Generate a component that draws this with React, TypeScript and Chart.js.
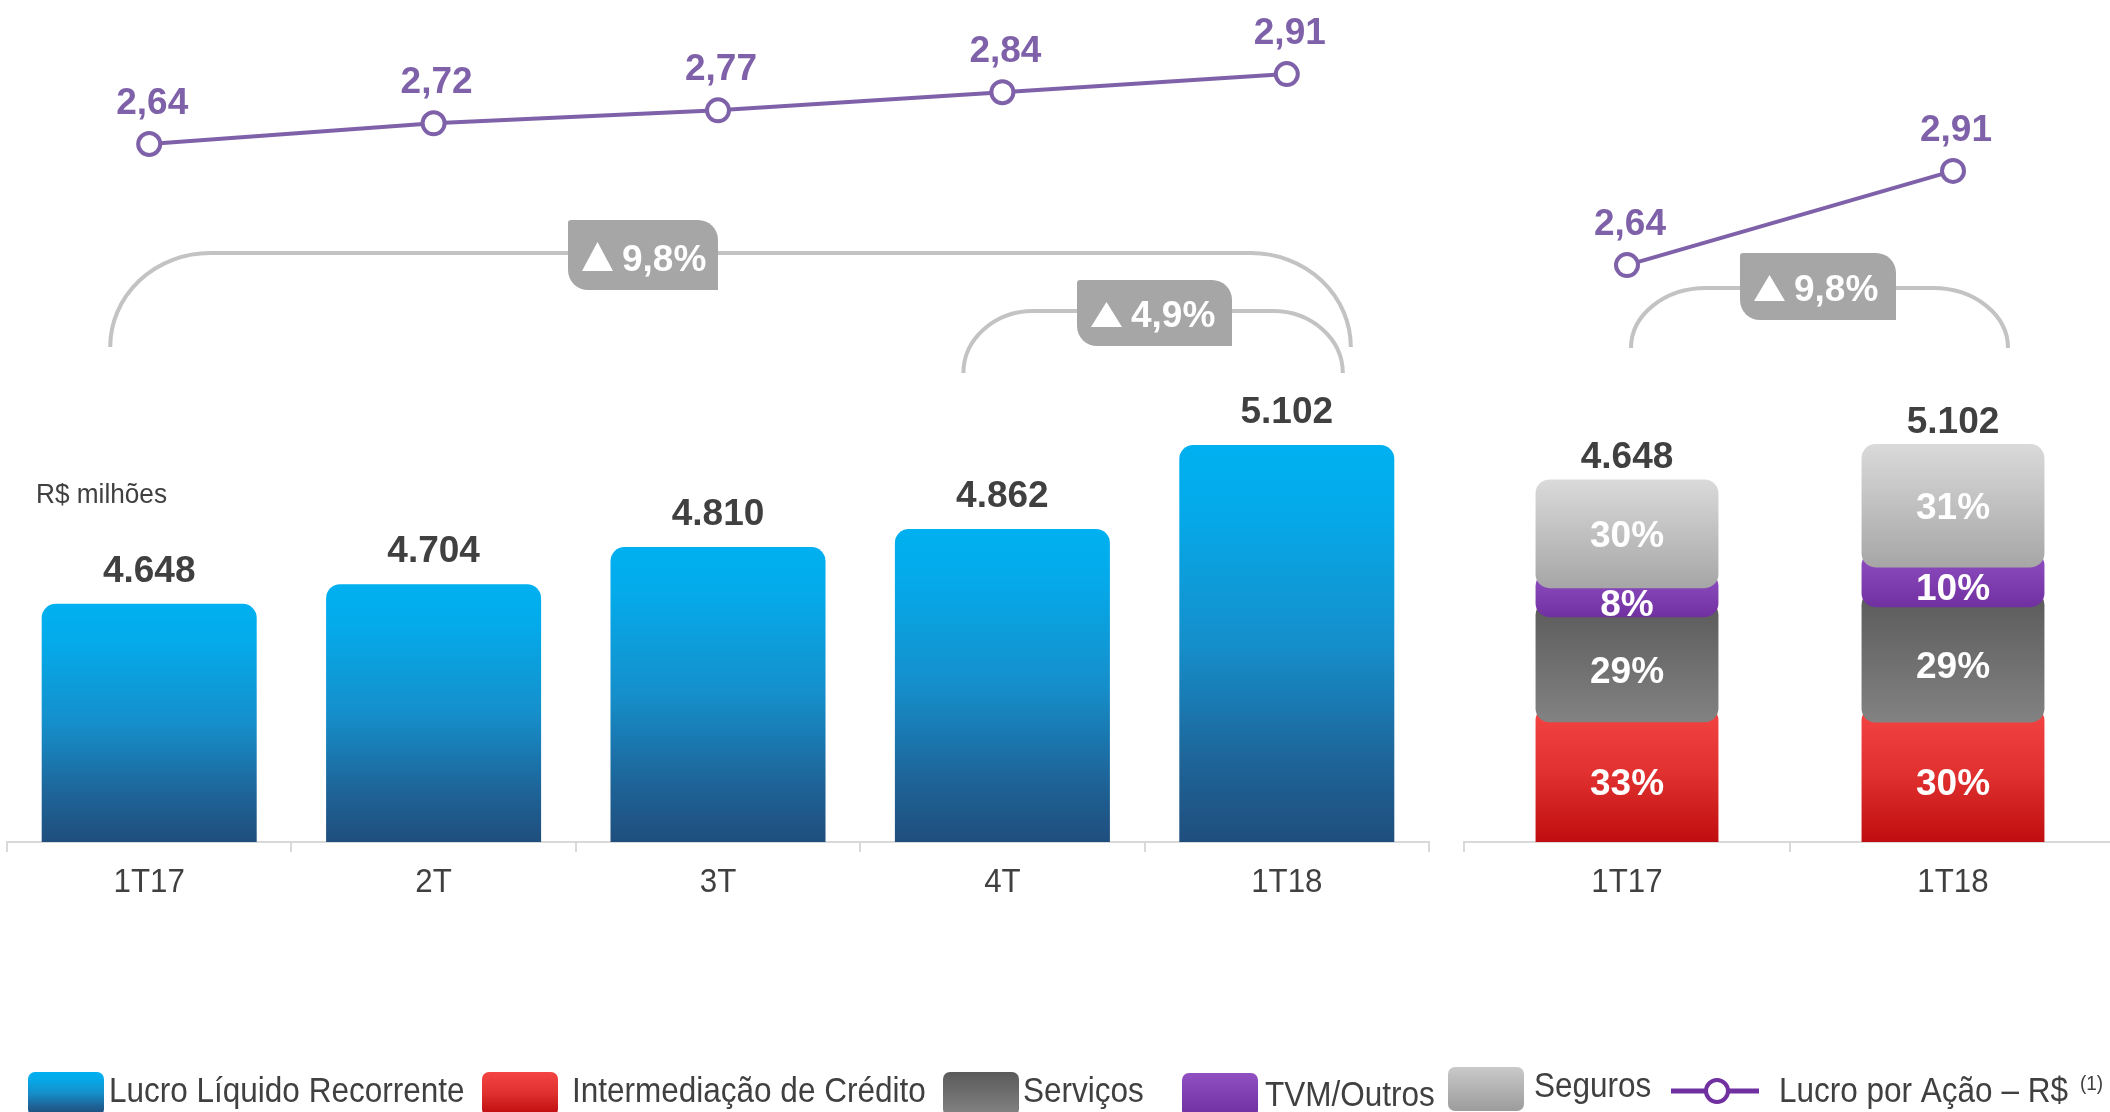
import React, { useEffect, useRef } from "react";
import { Chart, registerables } from "chart.js";

Chart.register(...registerables);

// ---------------- DATA ----------------
const leftCategories = ["1T17", "2T", "3T", "4T", "1T18"];
const lucroRecorrente = [4648, 4704, 4810, 4862, 5102];
const lucroPorAcao = [2.64, 2.72, 2.77, 2.84, 2.91];

const rightCategories = ["1T17", "1T18"];
const rightTotals = [4648, 5102];
const intermediacao = [33, 30];
const servicos = [29, 29];
const tvmOutros = [8, 10];
const seguros = [30, 31];
const rightLucroPorAcao = [2.64, 2.91];

const unitLabel = "R$ milhões";
const legendLabels = [
  "Lucro Líquido Recorrente",
  "Intermediação de Crédito",
  "Serviços",
  "TVM/Outros",
  "Seguros",
  "Lucro por Ação – R$",
];
const legendNote = "(1)";

// ---------------- STYLE ----------------
const W = 2110;
const H = 1112;
const FONT = '"Liberation Sans", Arial, Helvetica, sans-serif';
const PURPLE = "#7E61A8";
const TEXT = "#404040";
const AXIS = "#D9D9D9";
const BRACKET = "#C3C3C3";
const BADGE = "#A6A6A6";

type Stops = [number, string][];
const BLUE: Stops = [[0, "#00B0F0"], [0.15, "#04ABEB"], [0.5, "#158FCB"], [0.8, "#1E6498"], [1, "#1F4E7D"]];
const RED: Stops = [[0, "#F44545"], [0.5, "#E0302F"], [1, "#C00D0F"]];
const DARK: Stops = [[0, "#5A5A5A"], [1, "#828282"]];
const VIOLET: Stops = [[0, "#9150C2"], [1, "#7030A0"]];
const LIGHT: Stops = [[0, "#DADADA"], [1, "#A6A6A6"]];

const segmentShares = [intermediacao, servicos, tvmOutros, seguros];
const segmentStops = [RED, DARK, VIOLET, LIGHT];

// axis ranges (layout)
const LEFT_Y = { min: 3967, max: 6374 };
const LEFT_Y2 = { min: -0.055, max: 3.196 };
const RIGHT_Y = { min: 0, max: 10795 };
const RIGHT_Y2 = { min: 0.986, max: 3.4 };
const AXIS_BOTTOM = 842;
const RIGHT_LEFT = 1440;
const RIGHT_W = 680;
const SEG_OVERLAP = (RIGHT_Y.max * 16) / AXIS_BOTTOM;

// ---------------- HELPERS ----------------
const fmtInt = (v: number) => String(v).replace(/\B(?=(\d{3})+(?!\d))/g, ".");
const fmtDec = (v: number) => v.toFixed(2).replace(".", ",");
const fmtPct1 = (v: number) => v.toFixed(1).replace(".", ",") + "%";

function grad(ctx: CanvasRenderingContext2D, top: number, bottom: number, stops: Stops) {
  if (!isFinite(top) || !isFinite(bottom) || top === bottom) return stops[0][1];
  const g = ctx.createLinearGradient(0, top, 0, bottom);
  stops.forEach(([o, c]) => g.addColorStop(o, c));
  return g;
}

function drawText(
  ctx: CanvasRenderingContext2D,
  s: string,
  x: number,
  y: number,
  o: { size: number; bold?: boolean; color: string; align?: CanvasTextAlign; baseline?: CanvasTextBaseline; sx?: number }
) {
  ctx.save();
  ctx.font = `${o.bold ? "bold " : ""}${o.size}px ${FONT}`;
  ctx.fillStyle = o.color;
  ctx.textAlign = o.align || "center";
  ctx.textBaseline = o.baseline || "alphabetic";
  ctx.translate(x, y);
  ctx.scale(o.sx || 1, 1);
  ctx.fillText(s, 0, 0);
  ctx.restore();
}

function drawBracket(ctx: CanvasRenderingContext2D, x1: number, x2: number, yTop: number, yBot: number, rx: number) {
  const ry = yBot - yTop;
  ctx.save();
  ctx.strokeStyle = BRACKET;
  ctx.lineWidth = 4;
  ctx.beginPath();
  ctx.moveTo(x1, yBot);
  ctx.ellipse(x1 + rx, yBot, rx, ry, 0, Math.PI, 1.5 * Math.PI);
  ctx.lineTo(x2 - rx, yTop);
  ctx.ellipse(x2 - rx, yBot, rx, ry, 0, 1.5 * Math.PI, 2 * Math.PI);
  ctx.stroke();
  ctx.restore();
}

function drawBadge(ctx: CanvasRenderingContext2D, x: number, y: number, w: number, h: number, text: string) {
  ctx.save();
  ctx.fillStyle = BADGE;
  ctx.beginPath();
  (ctx as any).roundRect(x, y, w, h, [3, 20, 0, 20]);
  ctx.fill();
  ctx.fillStyle = "#FFFFFF";
  ctx.beginPath();
  ctx.moveTo(x + 14, y + h - 19);
  ctx.lineTo(x + 45, y + h - 19);
  ctx.lineTo(x + 29.5, y + 22);
  ctx.closePath();
  ctx.fill();
  ctx.restore();
  drawText(ctx, text, x + 54, y + h - 19, { size: 37, bold: true, color: "#FFFFFF", align: "left" });
}

function tickLabels(chart: any, labels: string[]) {
  const x = chart.scales.x;
  labels.forEach((l, i) => {
    drawText(chart.ctx, l, x.getPixelForValue(i), 892, { size: 34, color: TEXT, sx: 0.92 });
  });
}

function lineLabels(chart: any, values: number[]) {
  const x = chart.scales.x;
  const y2 = chart.scales.y2;
  values.forEach((v, i) => {
    drawText(chart.ctx, fmtDec(v), x.getPixelForValue(i) + 3, y2.getPixelForValue(v) - 30, {
      size: 37,
      bold: true,
      color: PURPLE,
    });
  });
}

// ---------------- PLUGINS ----------------
const leftPlugin = {
  id: "leftDecor",
  beforeDatasetsDraw(chart: any) {
    const ctx = chart.ctx;
    const x = chart.scales.x;
    const p0 = x.getPixelForValue(0);
    const p3 = x.getPixelForValue(3);
    const p4 = x.getPixelForValue(4);
    drawBracket(ctx, p0 - 39, p4 + 64, 253, 347, 100);
    drawBracket(ctx, p3 - 39, p4 + 56, 311, 373, 70);
    const n = lucroRecorrente.length - 1;
    drawBadge(ctx, 568, 220, 150, 70, fmtPct1((lucroRecorrente[n] / lucroRecorrente[0] - 1) * 100));
    drawBadge(ctx, 1077, 280, 155, 66, fmtPct1((lucroRecorrente[n] / lucroRecorrente[n - 1] - 1) * 100));
  },
  afterDatasetsDraw(chart: any) {
    const ctx = chart.ctx;
    const x = chart.scales.x;
    const y = chart.scales.y;
    lucroRecorrente.forEach((v, i) => {
      drawText(ctx, fmtInt(v), x.getPixelForValue(i), y.getPixelForValue(v) - 22, { size: 37, bold: true, color: TEXT });
    });
    lineLabels(chart, lucroPorAcao);
    tickLabels(chart, leftCategories);
    drawText(ctx, unitLabel, 36, 503, { size: 27, color: TEXT, align: "left", sx: 0.97 });

    // legend
    const sw = [
      { x: 28, y: 1072, stops: BLUE, tx: 109, ty: 1102 },
      { x: 482, y: 1072, stops: RED, tx: 572, ty: 1102 },
      { x: 943, y: 1072, stops: DARK, tx: 1023, ty: 1102 },
      { x: 1182, y: 1073, stops: VIOLET, tx: 1265, ty: 1106 },
      { x: 1448, y: 1067, stops: [[0, "#C9C9C9"], [1, "#9E9E9E"]] as Stops, tx: 1534, ty: 1097 },
    ];
    sw.forEach((s, i) => {
      ctx.save();
      ctx.fillStyle = grad(ctx, s.y, s.y + 42, s.stops);
      ctx.beginPath();
      (ctx as any).roundRect(s.x, s.y, 76, 44, 7);
      ctx.fill();
      ctx.restore();
      drawText(ctx, legendLabels[i], s.tx, s.ty, { size: 35, color: TEXT, align: "left", sx: 0.9 });
    });
    ctx.save();
    ctx.strokeStyle = "#7030A0";
    ctx.lineWidth = 5;
    ctx.beginPath();
    ctx.moveTo(1671, 1091);
    ctx.lineTo(1759, 1091);
    ctx.stroke();
    ctx.beginPath();
    ctx.arc(1717, 1091, 11, 0, Math.PI * 2);
    ctx.fillStyle = "#FFFFFF";
    ctx.fill();
    ctx.lineWidth = 4;
    ctx.stroke();
    ctx.restore();
    drawText(ctx, legendLabels[5], 1779, 1102, { size: 35, color: TEXT, align: "left", sx: 0.9 });
    drawText(ctx, legendNote, 2080, 1090, { size: 21, color: TEXT, align: "left", sx: 0.9 });
  },
};

const rightPlugin = {
  id: "rightDecor",
  beforeDatasetsDraw(chart: any) {
    const ctx = chart.ctx;
    const x = chart.scales.x;
    drawBracket(ctx, x.getPixelForValue(0) + 4, x.getPixelForValue(1) + 55, 288, 348, 75);
    drawBadge(ctx, 1740 - RIGHT_LEFT, 253, 156, 67, fmtPct1((rightTotals[1] / rightTotals[0] - 1) * 100));
  },
  afterDatasetsDraw(chart: any) {
    const ctx = chart.ctx;
    const x = chart.scales.x;
    const y = chart.scales.y;
    rightTotals.forEach((t, i) => {
      const px = x.getPixelForValue(i);
      drawText(ctx, fmtInt(t), px, y.getPixelForValue(t) - 11, { size: 37, bold: true, color: TEXT });
      let cum = 0;
      segmentShares.forEach((shares) => {
        const lo = (t * cum) / 100;
        cum += shares[i];
        const hi = (t * cum) / 100;
        const cy = (y.getPixelForValue(lo) + y.getPixelForValue(hi)) / 2;
        drawText(ctx, shares[i] + "%", px, cy + 13, { size: 37, bold: true, color: "#FFFFFF" });
      });
    });
    lineLabels(chart, rightLucroPorAcao);
    tickLabels(chart, rightCategories);
  },
};

// ---------------- CONFIG BUILDERS ----------------
const xScale = {
  type: "category" as const,
  grid: { offset: true, drawOnChartArea: false, drawTicks: true, tickLength: 10, color: AXIS, lineWidth: 2 },
  border: { display: true, color: AXIS, width: 2 },
  ticks: { display: false },
  afterFit: (s: any) => {
    s.height = H - AXIS_BOTTOM;
  },
};

const lineDataset = (data: number[]) => ({
  type: "line" as const,
  data,
  yAxisID: "y2",
  borderColor: PURPLE,
  borderWidth: 4,
  pointRadius: 11,
  pointBorderWidth: 4,
  pointBackgroundColor: "#FFFFFF",
  pointBorderColor: PURPLE,
  tension: 0,
  clip: false as any,
  order: 0,
});

function leftConfig(): any {
  return {
    type: "bar",
    data: {
      labels: leftCategories,
      datasets: [
        lineDataset(lucroPorAcao),
        {
          type: "bar",
          data: lucroRecorrente,
          yAxisID: "y",
          order: 1,
          barPercentage: 0.756,
          categoryPercentage: 1,
          borderRadius: { topLeft: 14, topRight: 14, bottomLeft: 0, bottomRight: 0 },
          borderSkipped: "bottom",
          backgroundColor: (c: any) => {
            const chart = c.chart;
            if (!chart.chartArea || c.raw == null) return BLUE[0][1];
            const y = chart.scales.y;
            return grad(chart.ctx, y.getPixelForValue(c.raw), chart.chartArea.bottom, BLUE);
          },
        },
      ],
    },
    options: {
      responsive: false,
      animation: false,
      events: [],
      layout: { autoPadding: false, padding: { left: 7, right: W - 1429, top: 0, bottom: 0 } },
      plugins: { legend: { display: false }, tooltip: { enabled: false } },
      scales: {
        x: xScale,
        y: { display: false, min: LEFT_Y.min, max: LEFT_Y.max },
        y2: { display: false, min: LEFT_Y2.min, max: LEFT_Y2.max },
      },
    },
    plugins: [leftPlugin],
  };
}

function rightConfig(): any {
  const segDatasets: any[] = [];
  const last = segmentShares.length - 1;
  // top segment first so it is painted above the others
  for (let k = last; k >= 0; k--) {
    const data = rightTotals.map((t, i) => {
      let before = 0;
      for (let j = 0; j < k; j++) before += segmentShares[j][i];
      const lo = (t * before) / 100;
      const hi = (t * (before + segmentShares[k][i])) / 100 + (k < last ? SEG_OVERLAP : 0);
      return [lo, hi];
    });
    const stops = segmentStops[k];
    segDatasets.push({
      type: "bar",
      data,
      yAxisID: "y",
      order: 1 + (last - k),
      grouped: false,
      barPercentage: 0.561,
      categoryPercentage: 1,
      borderSkipped: false,
      borderRadius: k === 0 ? { topLeft: 14, topRight: 14, bottomLeft: 0, bottomRight: 0 } : 14,
      backgroundColor: (c: any) => {
        const chart = c.chart;
        if (!chart.chartArea || !Array.isArray(c.raw)) return stops[0][1];
        const y = chart.scales.y;
        return grad(chart.ctx, y.getPixelForValue(c.raw[1]), y.getPixelForValue(c.raw[0]), stops);
      },
    });
  }
  return {
    type: "bar",
    data: {
      labels: rightCategories,
      datasets: [lineDataset(rightLucroPorAcao), ...segDatasets],
    },
    options: {
      responsive: false,
      animation: false,
      events: [],
      layout: {
        autoPadding: false,
        padding: { left: 1464 - RIGHT_LEFT, right: RIGHT_LEFT + RIGHT_W - 2116, top: 0, bottom: 0 },
      },
      plugins: { legend: { display: false }, tooltip: { enabled: false } },
      scales: {
        x: xScale,
        y: { display: false, min: RIGHT_Y.min, max: RIGHT_Y.max },
        y2: { display: false, min: RIGHT_Y2.min, max: RIGHT_Y2.max },
      },
    },
    plugins: [rightPlugin],
  };
}

// ---------------- COMPONENT ----------------
export default function App() {
  const leftRef = useRef<HTMLCanvasElement | null>(null);
  const rightRef = useRef<HTMLCanvasElement | null>(null);

  useEffect(() => {
    document.body.style.margin = "0";
    document.body.style.background = "#FFFFFF";
    const charts: Chart[] = [];
    if (leftRef.current) charts.push(new Chart(leftRef.current, leftConfig()));
    if (rightRef.current) charts.push(new Chart(rightRef.current, rightConfig()));
    return () => charts.forEach((c) => c.destroy());
  }, []);

  return (
    <div style={{ position: "relative", width: W, height: H, overflow: "hidden", background: "#FFFFFF" }}>
      <canvas ref={leftRef} width={W} height={H} style={{ position: "absolute", left: 0, top: 0, width: W, height: H }} />
      <canvas
        ref={rightRef}
        width={RIGHT_W}
        height={H}
        style={{ position: "absolute", left: RIGHT_LEFT, top: 0, width: RIGHT_W, height: H }}
      />
    </div>
  );
}
